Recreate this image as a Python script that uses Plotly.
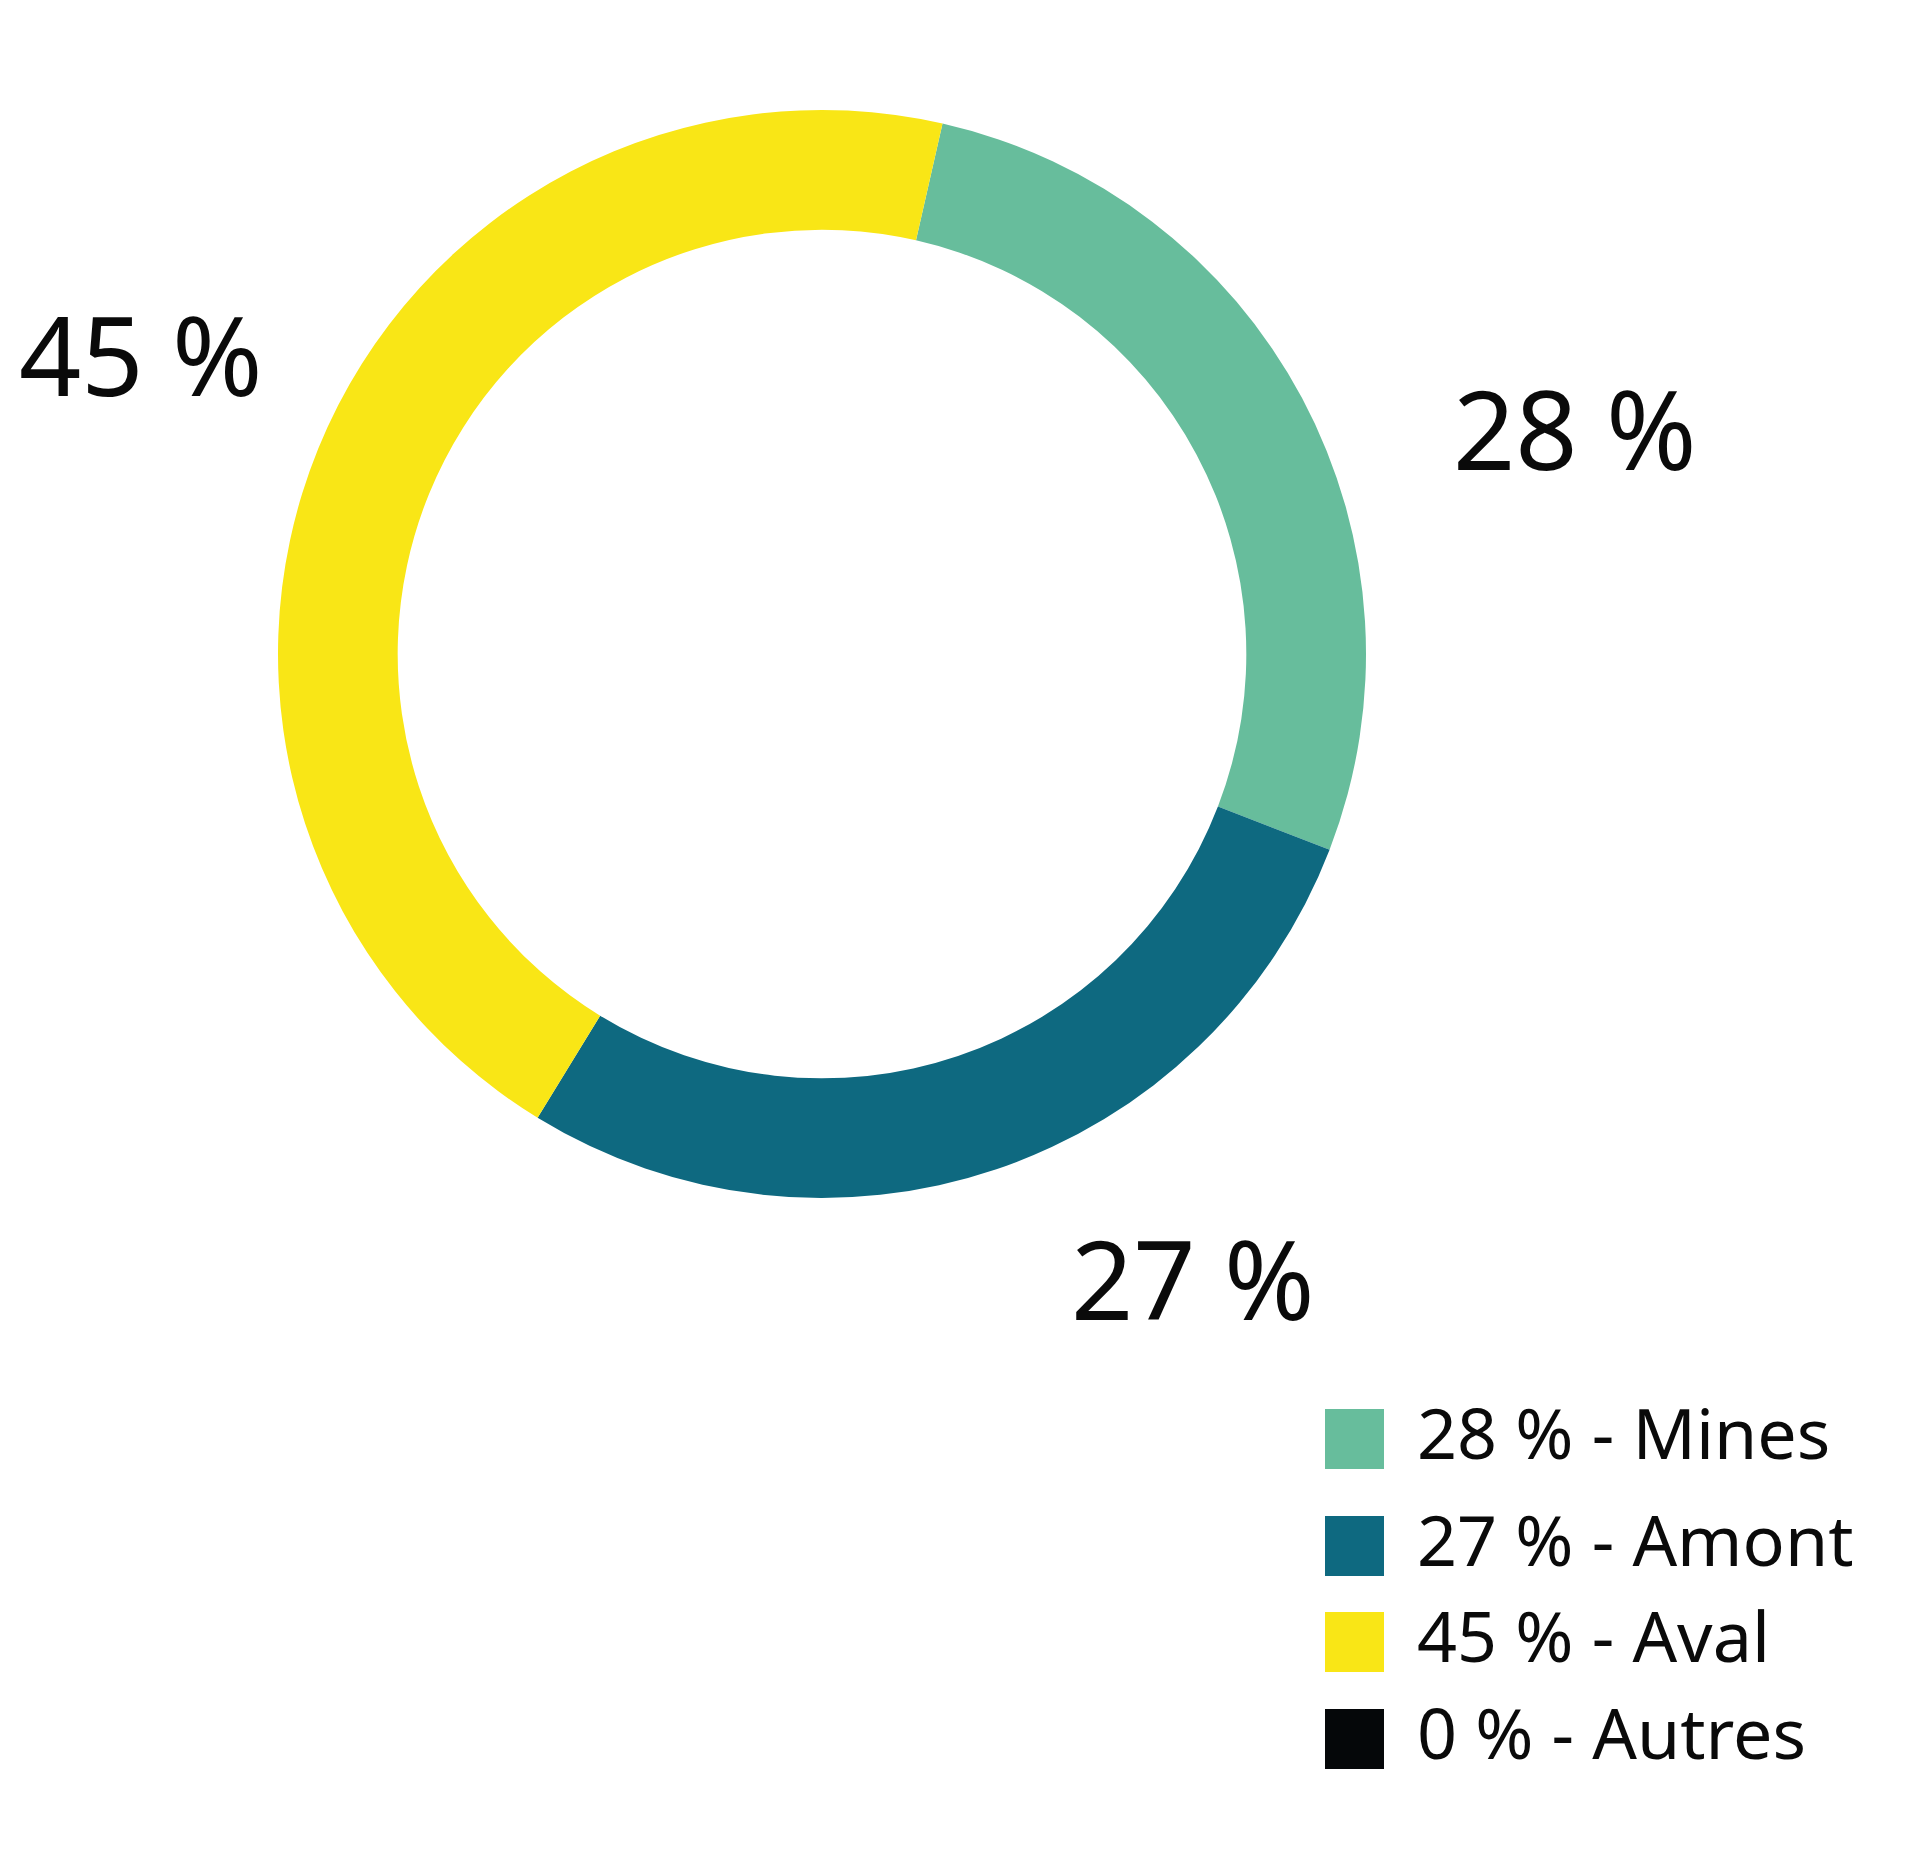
import plotly.graph_objects as go

# données du graphique
categories = ["Mines", "Amont", "Aval", "Autres"]
pourcentages = [28, 27, 45, 0]          # valeurs affichées (arrondies)
parts = [27.3, 27.9, 44.8, 0]
couleurs = ["#67BD9C", "#0E6980", "#F9E616", "#050709"]

W, H = 1920, 1851
FONT = "Noto Sans"


def px_x(x):
    return x / W


def px_y(y):
    return 1 - y / H


# anneau : centre et rayon en pixels
cx, cy, r = 814, 646, 544

fig = go.Figure(go.Pie(
    labels=categories,
    values=parts,
    marker=dict(colors=couleurs, line=dict(width=0)),
    hole=0.78,
    sort=False,
    direction="clockwise",
    rotation=12.8,
    textinfo="none",
    hoverinfo="label",
    showlegend=False,
    domain=dict(x=[px_x(cx - r), px_x(cx + r)],
                y=[px_y(cy + r), px_y(cy - r)]),
))

# étiquettes autour de l'anneau
pos_etiquettes = {"Mines": (1567, 419), "Amont": (1185, 1269), "Aval": (133, 345)}
for cat, val in zip(categories, pourcentages):
    if cat not in pos_etiquettes:
        continue
    x, y = pos_etiquettes[cat]
    fig.add_annotation(
        x=px_x(x), y=px_y(y), xref="paper", yref="paper",
        text=f"{val} %", showarrow=False,
        xanchor="center", yanchor="middle",
        font=dict(family=FONT, size=109, color="#0a0a0a"),
    )

# légende dessinée à la main
leg_y = [1431, 1538, 1634, 1731]
for cat, val, col, y in zip(categories, pourcentages, couleurs, leg_y):
    fig.add_shape(
        type="rect", xref="paper", yref="paper",
        x0=px_x(1317), x1=px_x(1376), y0=px_y(y + 30), y1=px_y(y - 30),
        fillcolor=col, line=dict(width=0),
    )
    fig.add_annotation(
        x=px_x(1407), y=px_y(y - 7), xref="paper", yref="paper",
        text=f"{val} % - {cat}", showarrow=False,
        xanchor="left", yanchor="middle",
        font=dict(family=FONT, size=70, color="#0a0a0a"),
    )

fig.update_layout(
    width=W, height=H,
    margin=dict(l=0, r=0, t=0, b=0),
    paper_bgcolor="white",
    plot_bgcolor="white",
)

fig.write_html("out.html")
